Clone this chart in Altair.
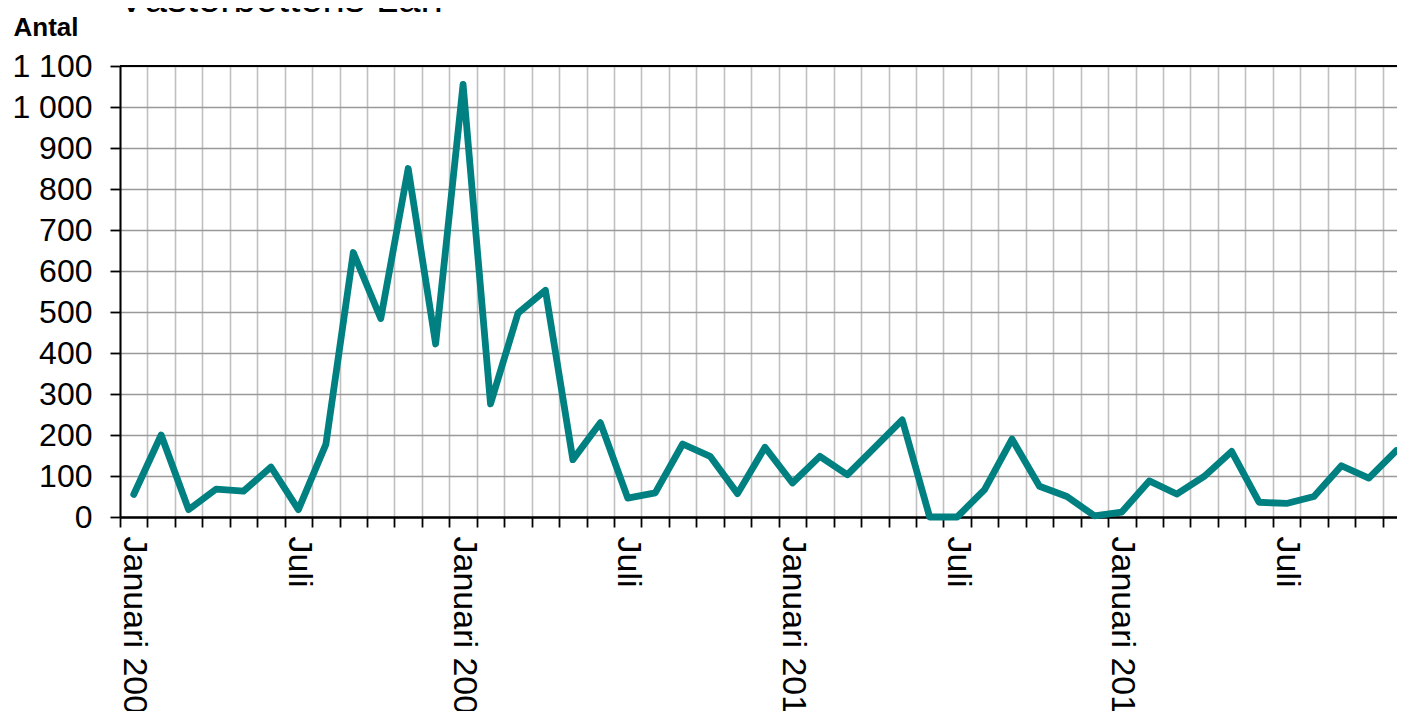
import altair as alt
import pandas as pd

# ---- data ----
title_text = "Västerbottens Län"
y_title = "Antal"
years = [2008, 2009, 2010, 2011]
month_numbers = list(range(1, 13))
values = [
    55, 200, 18, 68, 63, 122, 18, 177, 645, 484, 850, 422,      # 2008
    1055, 276, 497, 553, 140, 230, 46, 59, 178, 148, 57, 170,   # 2009
    83, 148, 103, 170, 237, 0, 0, 67, 190, 75, 50, 3,           # 2010
    12, 88, 56, 99, 160, 36, 33, 50, 125, 95, 162,              # 2011 (jan-nov)
]
y_ticks = list(range(0, 1101, 100))
y_max = 1100

keys = [f"{y}-{m:02d}" for y in years for m in month_numbers][: len(values)]
df = pd.DataFrame({"month": keys, "antal": values})

FONT = "Liberation Sans"

label_expr = (
    "!isString(datum.value) ? '' : "
    "(slice(datum.value, 5) == '01' ? 'Januari ' + slice(datum.value, 0, 4) : "
    "(slice(datum.value, 5) == '07' ? 'Juli' : ''))"
)
y_label_expr = "datum.value >= 1000 ? '1 ' + slice(datum.label, 2) : datum.label"

x_enc = alt.X(
    "month:N",
    scale=alt.Scale(type="band", domain=keys, range=[0, 1290],
                    paddingInner=0, paddingOuter=0),
    axis=alt.Axis(
        title=None, tickBand="extent", labelExpr=label_expr,
        labelAngle=90, labelAlign="left", labelBaseline="middle",
        labelFontSize=34, labelFont=FONT, labelColor="black",
        labelPadding=9, labelOverlap=False, labelLimit=0,
        ticks=True, tickSize=10, tickColor="black", tickWidth=1.8,
        domainColor="black", domainWidth=2.5,
        grid=True, gridColor="#c0c0c0", gridWidth=1.6,
    ),
)

y_enc = alt.Y(
    "antal:Q",
    scale=alt.Scale(domain=[0, y_max], nice=False),
    axis=alt.Axis(
        title=y_title, titleAngle=0, titleAlign="left", titleBaseline="alphabetic",
        titleX=-107, titleY=-31, titleFontSize=26, titleFontWeight="bold",
        titleFont=FONT, titleColor="black",
        values=y_ticks,
        labelExpr=y_label_expr,
        labelFontSize=32, labelFont=FONT, labelColor="black", labelPadding=18,
        ticks=True, tickSize=10, tickColor="black", tickWidth=1.8,
        domainColor="black", domainWidth=2,
        grid=True, gridColor="#999999", gridWidth=1.6,
    ),
)

line = alt.Chart(df).mark_line(
    color="#008080", strokeWidth=6.8, strokeCap="round", strokeJoin="round"
).encode(x=x_enc, y=y_enc)

top_rule = alt.Chart(pd.DataFrame({"top": [y_max]})).mark_rule(
    color="black", strokeWidth=2
).encode(y=alt.datum(y_max))

title_mark = alt.Chart(pd.DataFrame({"t": [title_text]})).mark_text(
    align="left", baseline="alphabetic", fontSize=40, font=FONT, color="black"
).encode(x=alt.value(-2), y=alt.value(-54), text="t:N")

chart = alt.layer(line, top_rule, title_mark).properties(
    width=1277,
    height=451,
    autosize=alt.AutoSizeParams(type="none"),
    padding={"left": 112, "top": 58, "right": 0, "bottom": 194},
).configure_view(stroke=None)

chart.save("out.html", embed_options={"renderer": "svg", "actions": False})
